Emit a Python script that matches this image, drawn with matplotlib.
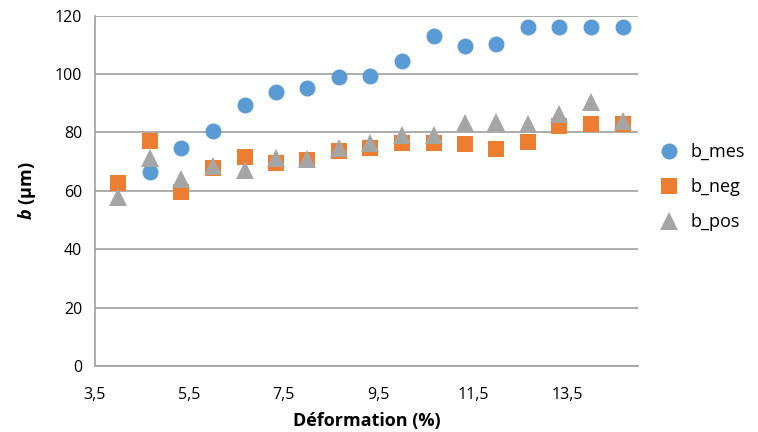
import matplotlib
matplotlib.use("Agg")
import matplotlib.pyplot as plt

# Données
deformation = [4.0, 4.67, 5.33, 6.0, 6.67, 7.33, 8.0, 8.67, 9.33, 10.0,
               10.67, 11.33, 12.0, 12.67, 13.33, 14.0, 14.67]
b_mes = [None, 66.4, 74.8, 80.6, 89.5, 93.8, 95.1, 98.9, 99.2, 104.5,
         112.9, 109.7, 110.3, 116.2, 116.2, 116.2, 116.2]
b_neg = [62.7, 77.2, 59.4, 67.9, 71.5, 69.6, 70.5, 73.6, 74.6, 76.5,
         76.5, 76.0, 74.2, 76.7, 82.1, 83.0, 82.8]
b_pos = [58.0, 71.1, 64.0, 68.3, 67.1, 71.2, 71.0, 74.7, 76.3, 79.1,
         79.1, 83.1, 83.7, 83.0, 86.2, 90.5, 83.9]

xticks = [3.5, 5.5, 7.5, 9.5, 11.5, 13.5]
yticks = [0, 20, 40, 60, 80, 100, 120]

plt.rcParams['font.family'] = ['Open Sans', 'DejaVu Sans']
plt.rcParams['mathtext.fontset'] = 'custom'
plt.rcParams['mathtext.rm'] = 'Open Sans'
plt.rcParams['mathtext.bfit'] = 'Open Sans:italic:bold'

fig = plt.figure(figsize=(7.58, 4.32), dpi=100)
ax = fig.add_axes([0.125, 0.153, 0.717, 0.811])

x_mes = [x for x, v in zip(deformation, b_mes) if v is not None]
y_mes = [v for v in b_mes if v is not None]

ax.plot(x_mes, y_mes, 'o', color='#5B9BD5', markersize=11.5, markeredgewidth=0,
        label='b_mes', zorder=3)
ax.plot(deformation, b_neg, 's', color='#ED7D31', markersize=12, markeredgewidth=0,
        label='b_neg', zorder=4)
ax.plot(deformation, b_pos, '^', color='#A5A5A5', markersize=13, markeredgewidth=0,
        label='b_pos', zorder=5)

ax.set_xlim(3.5, 15.0)
ax.set_ylim(0, 120)
ax.set_xticks(xticks)
ax.set_xticklabels([str(t).replace('.', ',') for t in xticks])
ax.set_yticks(yticks)
ax.tick_params(length=0, labelsize=11.5)
ax.tick_params(axis='x', pad=15)
ax.tick_params(axis='y', pad=9)
ax.grid(axis='y', color='#9e9e9e', linewidth=1.2)
ax.set_axisbelow(True)
for s in ['top', 'right']:
    ax.spines[s].set_visible(False)
ax.spines['left'].set_color('#9e9e9e')
ax.spines['bottom'].set_color('#9e9e9e')
ax.spines['left'].set_linewidth(1.2)
ax.spines['bottom'].set_linewidth(1.2)

ax.set_xlabel('Déformation (%)', fontsize=13, fontweight='bold', labelpad=7)
ax.set_ylabel(r'$\mathbfit{b}$ (µm)', fontsize=13, fontweight='bold', labelpad=12)

ax.legend(loc='center left', bbox_to_anchor=(1.0, 0.51), frameon=False,
          fontsize=13, handletextpad=0.2, labelspacing=0.95, borderaxespad=0.3)

fig.savefig('out.png', dpi=100)
